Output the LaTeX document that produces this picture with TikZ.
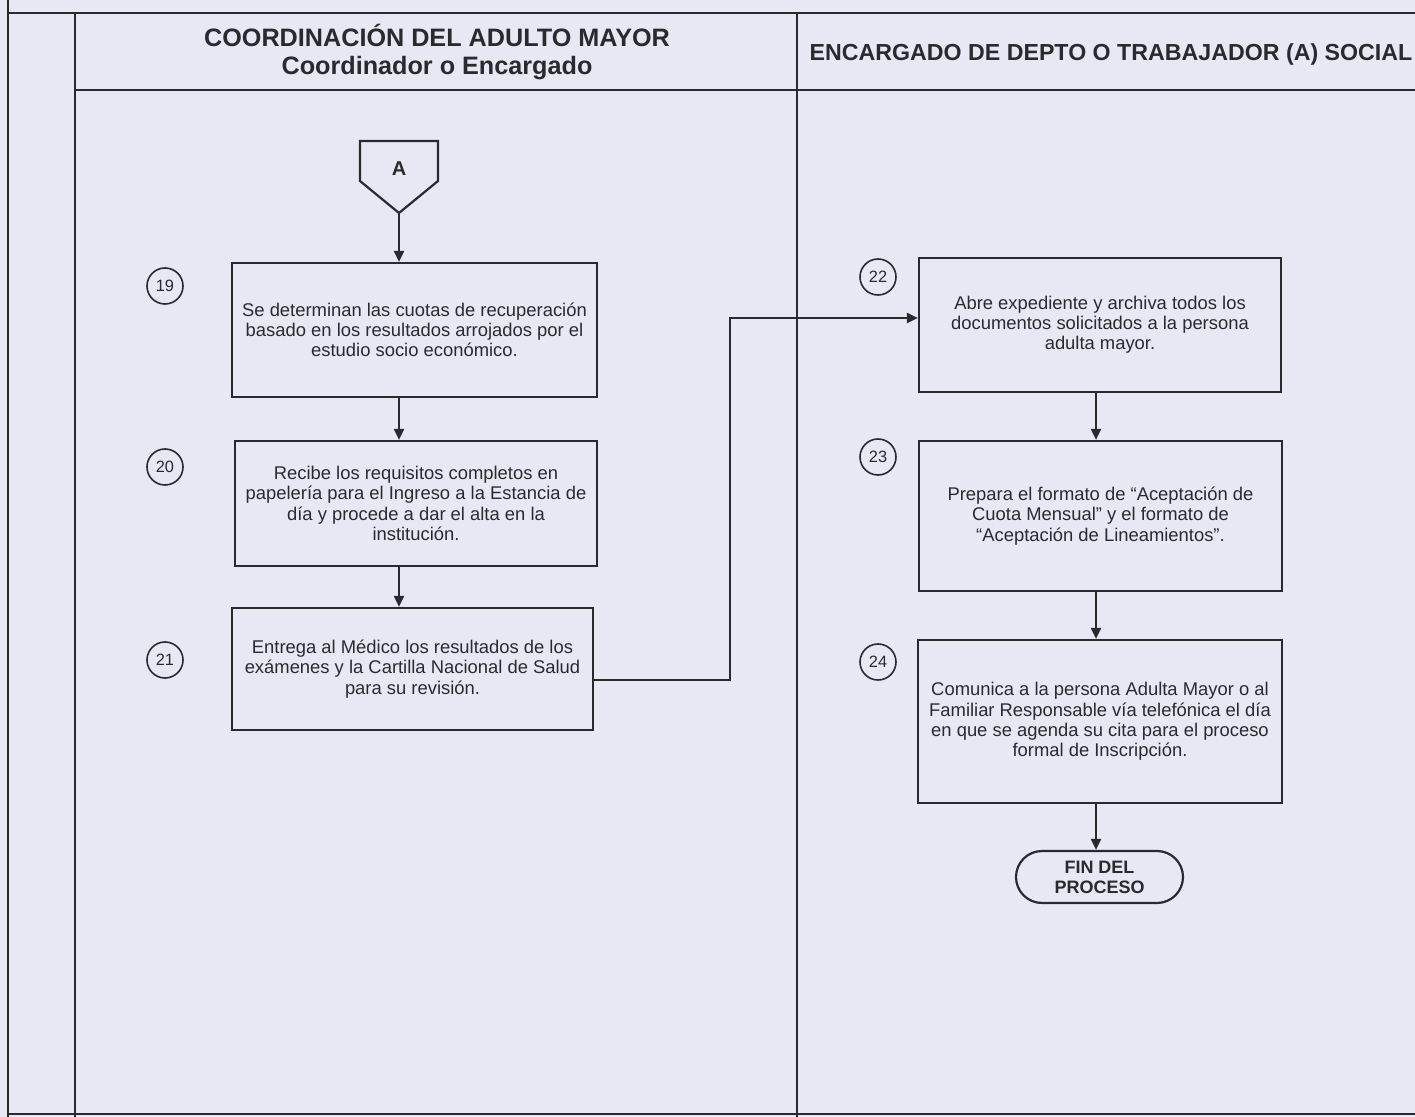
\documentclass[tikz,border=0pt]{standalone}
\usepackage{fontspec}
\setmainfont{Liberation Sans}
\usetikzlibrary{arrows.meta,shapes.misc}
\definecolor{bg}{HTML}{E7E8F4}
\definecolor{ink}{HTML}{2A2A2E}
\begin{document}
\begin{tikzpicture}[x=0.5pt,y=-0.5pt,
  frame/.style={draw=ink,line width=0.8pt},
  stepbox/.style={draw=ink,line width=1.1pt,rectangle,align=center,inner sep=0pt,
    text=ink,font=\fontsize{9.2}{10.1}\selectfont},
  num/.style={draw=ink,line width=0.8pt,circle,minimum size=18pt,inner sep=0pt,
    text=ink,font=\fontsize{8.2}{9}\selectfont},
  flow/.style={draw=ink,line width=1pt,-{Triangle[length=5.5pt,width=5pt]}},
  hdr/.style={text=ink,align=center,inner sep=0pt},
]
\fill[bg] (0,0) rectangle (1415,1117);
\useasboundingbox (0,0) rectangle (1415,1117);
% frame lines
\draw[frame] (8,0) -- (8,1117);
\draw[frame] (75,13) -- (75,1117);
\draw[frame] (8,13) -- (1415,13);
\draw[frame] (75,90) -- (1415,90);
\draw[frame] (797,13) -- (797,1117);
\draw[frame] (8,1114) -- (1415,1114);
% headers
\node[hdr,font=\fontsize{12.6}{15}\bfseries] (h1) at (437,52) {COORDINACIÓN DEL ADULTO MAYOR\\[-1pt]Coordinador o Encargado};
\node[hdr,font=\fontsize{11.6}{14}\bfseries] (h2) at (1111,55) {ENCARGADO DE DEPTO O TRABAJADOR (A) SOCIAL};
% connector A
\draw[draw=ink,line width=1.1pt] (360,141) -- (438,141) -- (438,181) -- (399,213) -- (360,181) -- cycle;
\coordinate (Abot) at (399,213);
\node[text=ink,font=\fontsize{10}{11}\bfseries] (Alab) at (399,169) {A};
\coordinate (lx) at (399,0);
\coordinate (rx) at (1096,0);
% boxes
\node[stepbox,minimum width=182.5pt,minimum height=67pt] (b19) at (414.5,330)
  {Se determinan las cuotas de recuperación\\basado en los resultados arrojados por el\\estudio socio económico.};
\node[stepbox,minimum width=181pt,minimum height=62.5pt] (b20) at (416,503.5)
  {Recibe los requisitos completos en\\papelería para el Ingreso a la Estancia de\\día y procede a dar el alta en la\\institución.};
\node[stepbox,minimum width=180.5pt,minimum height=61pt] (b21) at (412.5,669)
  {Entrega al Médico los resultados de los\\exámenes y la Cartilla Nacional de Salud\\para su revisión.};
\node[stepbox,minimum width=181pt,minimum height=67pt] (b22) at (1100,325)
  {Abre expediente y archiva todos los\\documentos solicitados a la persona\\adulta mayor.};
\node[stepbox,minimum width=181.5pt,minimum height=75pt] (b23) at (1100.5,516)
  {Prepara el formato de “Aceptación de\\Cuota Mensual” y el formato de\\“Aceptación de Lineamientos”.};
\node[stepbox,minimum width=182pt,minimum height=81.5pt] (b24) at (1100,721.5)
  {Comunica a la persona Adulta Mayor o al\\Familiar Responsable vía telefónica el día\\en que se agenda su cita para el proceso\\formal de Inscripción.};
\node[draw=ink,line width=1.1pt,rounded rectangle,minimum width=83.5pt,minimum height=26pt,
  inner sep=0pt,align=center,text=ink,font=\fontsize{9}{10}\bfseries] (fin) at (1099.5,877)
  {FIN DEL\\PROCESO};
% numbers
\node[num] (n19) at (165,286) {19};
\node[num] (n20) at (165,467) {20};
\node[num] (n21) at (165,660) {21};
\node[num] (n22) at (878,277) {22};
\node[num] (n23) at (878,457) {23};
\node[num] (n24) at (878,662) {24};
% arrows
\draw[flow] (Abot) -- (b19.north -| lx);
\draw[flow] (b19.south -| lx) -- (b20.north -| lx);
\draw[flow] (b20.south -| lx) -- (b21.north -| lx);
\coordinate (k1) at (730,680);
\coordinate (k2) at (730,318);
\draw[flow] (k1 -| b21.east) -- (k1) -- (k2) -- (k2 -| b22.west);
\draw[flow] (b22.south -| rx) -- (b23.north -| rx);
\draw[flow] (b23.south -| rx) -- (b24.north -| rx);
\draw[flow] (b24.south -| rx) -- (fin.north -| rx);
\end{tikzpicture}
\end{document}
